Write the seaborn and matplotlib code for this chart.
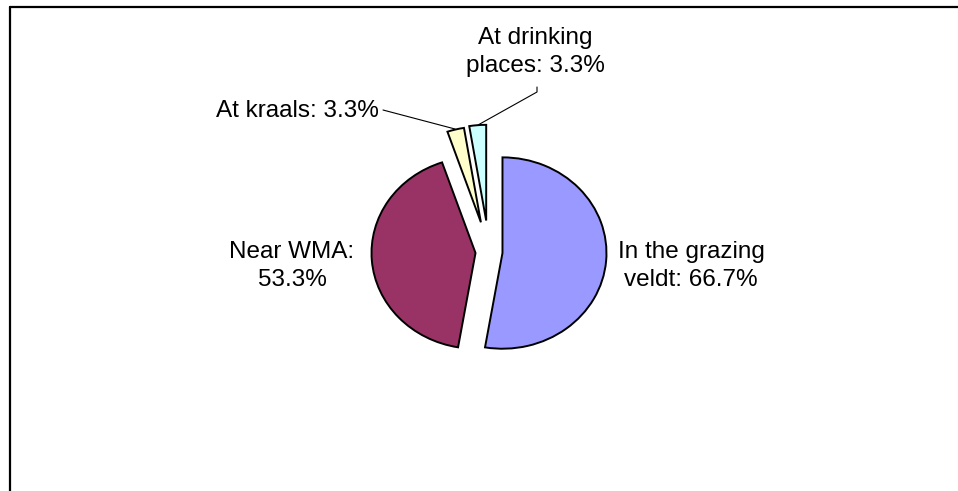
import matplotlib
matplotlib.use("Agg")
import matplotlib.pyplot as plt
from matplotlib.lines import Line2D
import seaborn as sns

# ---- data ----
categories = ["In the grazing veldt", "Near WMA", "At kraals", "At drinking places"]
percent_values = [66.7, 53.3, 3.3, 3.3]
label_texts = ["In the grazing\nveldt: 66.7%", "Near WMA:\n53.3%",
               "At kraals: 3.3%", "At drinking\nplaces: 3.3%"]
explode = [0.13, 0.13, 0.32, 0.33]

sns.set_theme(style="white")
plt.rcParams['font.family'] = ['Liberation Sans', 'DejaVu Sans']

colors = sns.color_palette(["#9999FF", "#993366", "#FFFFCC", "#CCFFFF"])

W, H = 958, 491
YS = 0.92  # vertical squash of the pie
R = 104

fig = plt.figure(figsize=(W / 100, H / 100), dpi=100)
fig.patch.set_facecolor("white")
ax = fig.add_axes([0, 0, 1, 1])
ax.set_xlim(0, W)
ax.set_ylim(H / YS, 0)
ax.axis("off")


def P(x, y):
    return x, y / YS


cx, cy = P(489, 252)
ax.pie(percent_values, explode=[e * R for e in explode], colors=colors,
       startangle=-90, counterclock=True, center=(cx, cy), radius=R,
       wedgeprops=dict(edgecolor="black", linewidth=1.4),
       frame=False)
ax.set_xlim(0, W)
ax.set_ylim(H / YS, 0)
ax.set_aspect("auto")

fs = 17.5
ls = 1.3
ax.text(*P(691, 266), label_texts[0], ha="center", va="center", fontsize=fs,
        linespacing=ls, color="black")
ax.text(*P(292, 266), label_texts[1], ha="center", va="center", fontsize=fs,
        linespacing=ls, color="black")
ax.text(*P(379, 111), label_texts[2], ha="right", va="center", fontsize=fs,
        color="black")
ax.text(*P(535, 52), label_texts[3], ha="center", va="center", fontsize=fs,
        linespacing=ls, color="black")

# leader lines
kx = [383, 455]
ky = [110 / YS, 129 / YS]
ax.plot(kx, ky, color="black", lw=0.8)
dx = [537, 537, 478]
dy = [87 / YS, 92 / YS, 125 / YS]
ax.plot(dx, dy, color="black", lw=0.8)

# chart frame (top and left edges)
fig.add_artist(Line2D([10 / W, 1], [1 - 7 / H, 1 - 7 / H], transform=fig.transFigure,
                      color="black", lw=1.6))
fig.add_artist(Line2D([10 / W, 10 / W], [0, 1 - 7 / H], transform=fig.transFigure,
                      color="black", lw=1.6))

fig.savefig("out.png", dpi=100, facecolor="white")
